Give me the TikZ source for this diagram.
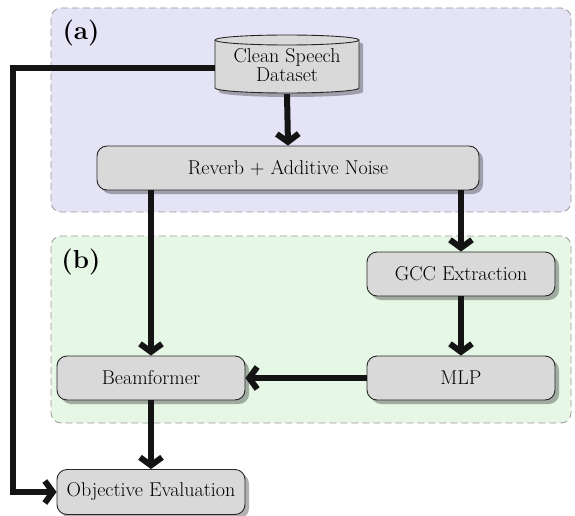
\documentclass[tikz,border=0pt]{standalone}
\usetikzlibrary{arrows.meta,shadows}
\definecolor{panelA}{RGB}{229,228,247}
\definecolor{panelB}{RGB}{231,247,230}
\definecolor{boxfill}{RGB}{217,217,217}
\definecolor{linec}{RGB}{20,20,20}
\begin{document}
\begin{tikzpicture}[x=1pt,y=-1pt,
  panel/.style={draw=black!40, dash pattern=on 7pt off 4pt, line width=0.8pt, rounded corners=10pt},
  tag/.style={font=\fontsize{26}{28}\selectfont\bfseries, inner sep=0pt},
  stepbox/.style={draw=black!85, fill=boxfill, line width=0.9pt, rounded corners=10pt,
    drop shadow={shadow xshift=4pt, shadow yshift=-4pt, fill=black, opacity=0.3},
    font=\fontsize{20}{16}\selectfont, inner sep=0pt},
  conn/.style={draw=linec, line width=6pt, -{Straight Barb[length=8pt,width=22pt]}},
  wire/.style={draw=linec, line width=6pt}]
\useasboundingbox (0,0) rectangle (575,516);

% background panels
\draw[panel, fill=panelA] (51,8) rectangle (571,212);
\draw[panel, fill=panelB] (51,236) rectangle (571,423);
\node[tag] (la) at (81,33) {(a)};
\node[tag] (lb) at (81,262) {(b)};

% database cylinder (axis vertical, y grows downwards)
\fill[black, opacity=0.3] (219,44) -- (219,92) arc[start angle=180, end angle=0, x radius=72, y radius=5]
  -- (363,44) arc[start angle=0, end angle=-180, x radius=72, y radius=5] -- cycle;
\draw[draw=black!85, fill=boxfill, line width=0.9pt]
  (215,40) -- (215,88) arc[start angle=180, end angle=0, x radius=72, y radius=5]
  -- (359,40) arc[start angle=0, end angle=-180, x radius=72, y radius=5] -- cycle;
\draw[draw=black!85, line width=0.9pt] (215,40) arc[start angle=180, end angle=0, x radius=72, y radius=5];
\node[font=\fontsize{20}{16}\selectfont, align=center, minimum width=144pt, minimum height=58pt, inner sep=0pt]
  (data) at (287,65) {Clean Speech\\Dataset};

% processing blocks
\node[stepbox, minimum width=382pt, minimum height=44pt] (rev) at (288,168) {Reverb + Additive Noise};
\node[stepbox, minimum width=188pt, minimum height=44pt] (gcc) at (461,274) {GCC Extraction};
\node[stepbox, minimum width=188pt, minimum height=44pt] (mlp) at (461,378) {MLP};
\node[stepbox, minimum width=188pt, minimum height=44pt] (bf) at (151,378) {Beamformer};
\node[stepbox, minimum width=188pt, minimum height=45pt] (obj) at (151,492) {Objective Evaluation};

% connectors
\coordinate (turn) at (13,68);
\path[conn] (data.south) -- (rev.north);
\path[conn] (bf.north |- rev.south) -- (bf.north);
\path[conn] (gcc.north |- rev.south) -- (gcc.north);
\path[conn] (gcc.south) -- (mlp.north);
\path[conn] (mlp.west) -- (bf.east);
\path[conn] (bf.south) -- (obj.north);
\path[conn] ([yshift=-3pt]data.west) -- (turn) |- (obj.west);
\end{tikzpicture}
\end{document}
